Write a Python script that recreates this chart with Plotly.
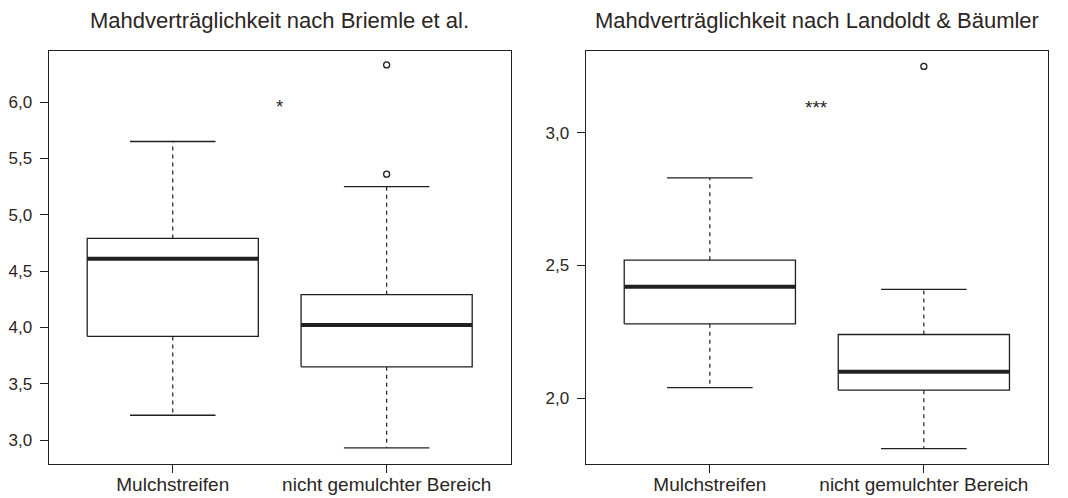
import plotly.graph_objects as go

# ---------------- data ----------------
categories = ["Mulchstreifen", "nicht gemulchter Bereich"]
positions = [1, 2]
titles = ["Mahdverträglichkeit nach Briemle et al.",
          "Mahdverträglichkeit nach Landoldt & Bäumler"]

# Panel 1: Briemle et al.
briemle_lower = [3.22, 2.93]
briemle_q1 = [3.92, 3.65]
briemle_median = [4.61, 4.02]
briemle_q3 = [4.79, 4.29]
briemle_upper = [5.65, 5.25]
briemle_outliers = [[], [5.36, 6.33]]

# Panel 2: Landoldt & Bäumler
landolt_lower = [2.04, 1.81]
landolt_q1 = [2.28, 2.03]
landolt_median = [2.42, 2.10]
landolt_q3 = [2.52, 2.24]
landolt_upper = [2.83, 2.41]
landolt_outliers = [[], [3.25]]

significance = ["*", "***"]
sig_y = [6.0, 3.11]

y_ticks_1 = [3.0, 3.5, 4.0, 4.5, 5.0, 5.5, 6.0]
y_ticks_2 = [2.0, 2.5, 3.0]

# ---------------- style ----------------
INK = "#231f20"
TXT = "#2b2623"
FONT = "Liberation Sans, Arial, sans-serif"
BOX_HALF = 0.4
CAP_HALF = 0.2


def panel_traces(lower, q1, med, q3, upper, outliers, xa, ya):
    traces = []
    bx, by, mx, my, wx, wy, cx, cy, ox, oy = ([] for _ in range(10))
    for p, lo, a, m, b, hi, outs in zip(positions, lower, q1, med, q3, upper, outliers):
        bx += [p - BOX_HALF, p + BOX_HALF, p + BOX_HALF, p - BOX_HALF, p - BOX_HALF, None]
        by += [a, a, b, b, a, None]
        mx += [p - BOX_HALF, p + BOX_HALF, None]
        my += [m, m, None]
        wx += [p, p, None, p, p, None]
        wy += [b, hi, None, a, lo, None]
        cx += [p - CAP_HALF, p + CAP_HALF, None, p - CAP_HALF, p + CAP_HALF, None]
        cy += [hi, hi, None, lo, lo, None]
        for o in outs:
            ox.append(p)
            oy.append(o)
    common = dict(xaxis=xa, yaxis=ya, showlegend=False, hoverinfo="skip")
    traces.append(go.Scatter(x=wx, y=wy, mode="lines",
                             line=dict(color=INK, width=1.2, dash="4px,4px"), **common))
    traces.append(go.Scatter(x=cx, y=cy, mode="lines",
                             line=dict(color=INK, width=1.3), **common))
    traces.append(go.Scatter(x=bx, y=by, mode="lines", fill="toself", fillcolor="white",
                             line=dict(color=INK, width=1.3), **common))
    traces.append(go.Scatter(x=mx, y=my, mode="lines",
                             line=dict(color=INK, width=4), **common))
    traces.append(go.Scatter(x=ox, y=oy, mode="markers",
                             marker=dict(symbol="circle-open", size=6, color=INK,
                                         line=dict(width=1.3, color=INK)), **common))
    return traces


fig = go.Figure()
for t in panel_traces(briemle_lower, briemle_q1, briemle_median, briemle_q3,
                      briemle_upper, briemle_outliers, "x", "y"):
    fig.add_trace(t)
for t in panel_traces(landolt_lower, landolt_q1, landolt_median, landolt_q3,
                      landolt_upper, landolt_outliers, "x2", "y2"):
    fig.add_trace(t)

# page body has an 8px default margin -> the figure is offset by 8px
OFF = 8
W, H = 1068 - OFF, 498 - OFF
x1_dom = [(48.7 - OFF) / W, (510.7 - OFF) / W]
x2_dom = [(585.7 - OFF) / W, (1048 - OFF) / W]
y_dom = [(H - (464 - OFF)) / H, (H - (50.5 - OFF)) / H]

xaxis_common = dict(range=[0.42, 2.58], tickvals=positions, ticktext=categories,
                     showline=True, mirror=True, linecolor=INK, linewidth=1.3,
                     ticks="outside", ticklen=8, tickwidth=1.3, tickcolor=INK,
                     showgrid=False, zeroline=False, fixedrange=True,
                     tickfont=dict(family=FONT, size=19, color=TXT),
                     ticklabelstandoff=-5, automargin=False)
yaxis_common = dict(showline=True, mirror=True, linecolor=INK, linewidth=1.3,
                    ticks="outside", ticklen=8, tickwidth=1.3, tickcolor=INK,
                    showgrid=False, zeroline=False, fixedrange=True,
                    tickformat=".1f",
                    tickfont=dict(family=FONT, size=17, color=TXT),
                    ticklabelstandoff=4, automargin=False)

fig.update_layout(
    width=W, height=H,
    margin=dict(l=0, r=0, t=0, b=0),
    paper_bgcolor="white", plot_bgcolor="white",
    separators=",.",
    xaxis=dict(domain=x1_dom, anchor="y", **xaxis_common),
    yaxis=dict(domain=y_dom, anchor="x", range=[2.787, 6.458], tickvals=y_ticks_1, **yaxis_common),
    xaxis2=dict(domain=x2_dom, anchor="y2", **xaxis_common),
    yaxis2=dict(domain=y_dom, anchor="x2", range=[1.752, 3.310], tickvals=y_ticks_2, **yaxis_common),
)

annotations = []
for dom, title in zip([x1_dom, x2_dom], titles):
    annotations.append(dict(text=title, xref="paper", yref="paper",
                            x=(dom[0] + dom[1]) / 2, y=1 - (21 - OFF) / H,
                            xanchor="center", yanchor="middle", showarrow=False,
                            font=dict(family=FONT, size=22, color=TXT)))
for xr, yr, s, yv in zip(["x", "x2"], ["y", "y2"], significance, sig_y):
    annotations.append(dict(text=s, xref=xr, yref=yr, x=1.5, y=yv, yshift=-4,
                            xanchor="center", yanchor="middle", showarrow=False,
                            font=dict(family=FONT, size=19, color=TXT)))
fig.update_layout(annotations=annotations)

fig.write_html("out.html")
